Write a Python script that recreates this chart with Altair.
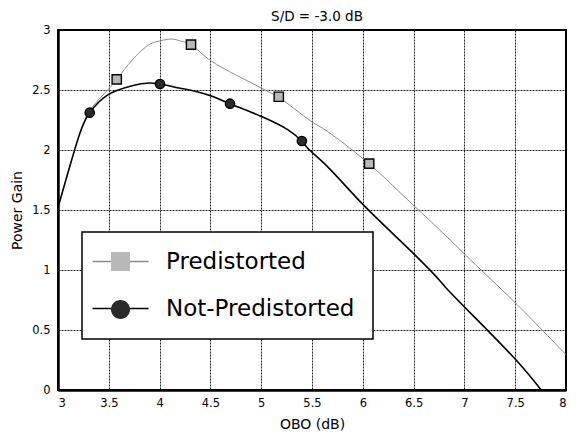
import altair as alt
import pandas as pd

# ---- data ----
series_order = ["Predistorted", "Not-Predistorted"]

pre_x = [3.31, 3.40, 3.49, 3.58, 3.73, 3.90, 4.01, 4.12, 4.22, 4.30, 4.51, 5.00, 5.17, 5.49, 5.65, 6.06, 6.51, 6.72, 7.11, 7.52, 8.00]
pre_y = [2.33, 2.42, 2.50, 2.59, 2.75, 2.88, 2.91, 2.925, 2.905, 2.883, 2.74, 2.517, 2.44, 2.24, 2.156, 1.886, 1.53, 1.364, 1.044, 0.711, 0.294]

not_x = [3.00, 3.20, 3.247, 3.31, 3.49, 3.73, 3.90, 4.00, 4.19, 4.35, 4.51, 4.69, 5.00, 5.26, 5.40, 5.456, 5.65, 6.02, 6.51, 6.72, 6.82, 7.52, 7.756]
not_y = [1.52, 2.10, 2.21, 2.31, 2.46, 2.536, 2.558, 2.55, 2.517, 2.49, 2.45, 2.386, 2.28, 2.17, 2.075, 2.017, 1.864, 1.53, 1.128, 0.947, 0.85, 0.239, 0.0]

pre_mx = [3.578, 4.309, 5.173, 6.063]
pre_my = [2.589, 2.878, 2.444, 1.886]
not_mx = [3.312, 4.004, 4.693, 5.40]
not_my = [2.311, 2.55, 2.386, 2.075]

x_ticks = [3, 3.5, 4, 4.5, 5, 5.5, 6, 6.5, 7, 7.5, 8]
y_ticks = [0, 0.5, 1, 1.5, 2, 2.5, 3]

lines = pd.DataFrame({
    "OBO": pre_x + not_x,
    "Gain": pre_y + not_y,
    "Series": [series_order[0]] * len(pre_x) + [series_order[1]] * len(not_x),
})
markers = pd.DataFrame({
    "OBO": pre_mx + not_mx,
    "Gain": pre_my + not_my,
    "Marker": [series_order[0]] * len(pre_mx) + [series_order[1]] * len(not_mx),
})

FONT = "DejaVu Sans"
sq_path = "M-0.95,-0.95H0.95V0.95H-0.95Z"
circ_path = "M0.95,0A0.95,0.95,0,1,1,-0.95,0A0.95,0.95,0,1,1,0.95,0Z"

x_scale = alt.Scale(domain=[3, 8], nice=False, zero=False)
y_scale = alt.Scale(domain=[0, 3], nice=False, zero=False)

x_axis = alt.Axis(values=x_ticks, format="~g", title="OBO (dB)", labelPadding=7,
                  titlePadding=9, titleFontSize=14, labelFlush=True)
y_axis = alt.Axis(values=y_ticks, format="~g", title="Power Gain", labelPadding=8,
                  titlePadding=7, titleFontSize=14)

legend_common = dict(
    orient="none", legendX=24, legendY=202, title=None, direction="vertical",
    padding=18, rowPadding=23, symbolSize=400, symbolOffset=9,
    labelFont=FONT, labelFontSize=23, labelOffset=34, labelColor="black",
    labelLimit=400,
)

line_legend = alt.Legend(
    symbolType="M-2.8,0H2.8", symbolStrokeWidth=1.3, fillColor="white",
    strokeColor="black",
    **legend_common,
)
marker_legend = alt.Legend(
    symbolStrokeColor="black", symbolStrokeWidth=1.5, labelOpacity=0,
    **legend_common,
)

line_layer = alt.Chart(lines).mark_line(interpolate="catmull-rom").encode(
    x=alt.X("OBO:Q", scale=x_scale, axis=x_axis),
    y=alt.Y("Gain:Q", scale=y_scale, axis=y_axis),
    color=alt.Color("Series:N", sort=series_order,
                    scale=alt.Scale(range=["#8c8c8c", "#000000"]),
                    legend=line_legend),
    strokeWidth=alt.StrokeWidth("Series:N", sort=series_order,
                                scale=alt.Scale(range=[1.0, 1.6]),
                                legend=None),
)

point_layer = alt.Chart(markers).mark_point(
    filled=True, size=95, stroke="black", strokeWidth=1.4, opacity=1
).encode(
    x=alt.X("OBO:Q", scale=x_scale),
    y=alt.Y("Gain:Q", scale=y_scale),
    shape=alt.Shape("Marker:N", scale=alt.Scale(domain=series_order, range=[sq_path, circ_path]),
                    legend=marker_legend),
    fill=alt.Fill("Marker:N", scale=alt.Scale(domain=series_order, range=["#b8b8b8", "#2b2b2b"]),
                  legend=marker_legend),
)

chart = alt.layer(line_layer, point_layer).properties(
    width=508, height=360,
    background="white",
    title=alt.TitleParams("S/D = -3.0 dB", font=FONT, fontSize=13.5, fontWeight="normal",
                          anchor="middle", frame="group", offset=1, dx=5, color="black"),
    autosize=alt.AutoSizeParams(type="none"),
    padding={"left": 50, "top": 22, "right": 2, "bottom": 43},
).configure_view(
    stroke="black", strokeWidth=2
).configure_axis(
    grid=True, gridColor="#000000", gridDash=[2, 1], gridWidth=1, gridOpacity=0.85,
    domain=True, domainColor="black", domainWidth=2.5, ticks=False,
    labelFont=FONT, labelFontSize=11.5, labelColor="black",
    titleFont=FONT, titleFontWeight="normal", titleColor="black",
).configure_legend(
    strokeWidth=1.5
)

chart.save("out.html", embed_options={"renderer": "svg", "actions": False})
